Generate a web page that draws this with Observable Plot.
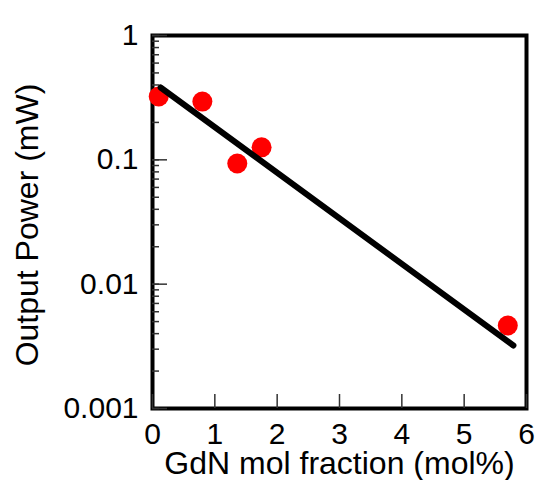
<!DOCTYPE html>
<html>
<head>
<meta charset="utf-8">
<script src="https://cdn.jsdelivr.net/npm/d3@7"></script>
<script src="https://cdn.jsdelivr.net/npm/@observablehq/plot@0.6"></script>
<style>
  html, body { margin: 0; padding: 0; background: white; }
</style>
</head>
<body>
<div id="chart"></div>
<script>
// Measured points
const gdnFraction = [0.1, 0.8, 1.36, 1.75, 5.7];
const outputPower = [0.323, 0.294, 0.0934, 0.126, 0.00465];
// Fit line endpoints
const fitFraction = [0.13, 5.79];
const fitPower = [0.382, 0.00321];
// Ticks
const xTicks = [0, 1, 2, 3, 4, 5, 6];
const xTickLabels = ["0", "1", "2", "3", "4", "5", "6"];
const yTicks = [0.001, 0.01, 0.1, 1];
const yTickLabels = ["0.001", "0.01", "0.1", "1"];
const xTitle = "GdN mol fraction (mol%)";
const yTitle = "Output Power (mW)";

const points = gdnFraction.map((x, i) => ({x, y: outputPower[i]}));
const fit = fitFraction.map((x, i) => ({x, y: fitPower[i]}));

const chart = Plot.plot({
  width: 538,
  height: 480,
  marginLeft: 152,
  marginRight: 12,
  marginTop: 35,
  marginBottom: 72,
  style: {fontFamily: "'Liberation Sans', Arial, sans-serif", background: "white", color: "black"},
  x: {domain: [0, 6]},
  y: {type: "log", domain: [0.001, 1]},
  marks: [
    Plot.frame({stroke: "black", strokeWidth: 4}),
    Plot.axisY({ticks: 10, tickSize: -7, text: null, label: null, stroke: "#333", strokeWidth: 1.5}),
    Plot.axisY({ticks: yTicks, tickSize: -15, text: null, label: null, stroke: "#333", strokeWidth: 1.5}),
    Plot.axisY({ticks: yTicks, tickSize: 0, tickPadding: 14, fontSize: 30, label: null,
      tickFormat: d => yTickLabels[yTicks.indexOf(d)]}),
    Plot.axisX({ticks: xTicks, tickSize: -14, text: null, label: null, stroke: "#333", strokeWidth: 1.5}),
    Plot.axisX({ticks: xTicks, tickSize: 0, tickPadding: 14, fontSize: 30, label: null,
      tickFormat: d => xTickLabels[xTicks.indexOf(d)]}),
    Plot.text([xTitle], {text: d => d, frameAnchor: "bottom", textAnchor: "middle", lineAnchor: "bottom", dy: 65, fontSize: 32, fill: "black"}),
    Plot.text([yTitle], {text: d => d, frameAnchor: "left", textAnchor: "middle", lineAnchor: "bottom", rotate: -90, dx: -115, dy: 3, fontSize: 32, fill: "black"}),
    Plot.dot(points, {x: "x", y: "y", r: 10, fill: "#ff0000", stroke: null}),
    Plot.line(fit, {x: "x", y: "y", stroke: "black", strokeWidth: 6})
  ]
});
document.getElementById("chart").appendChild(chart);
</script>
</body>
</html>
